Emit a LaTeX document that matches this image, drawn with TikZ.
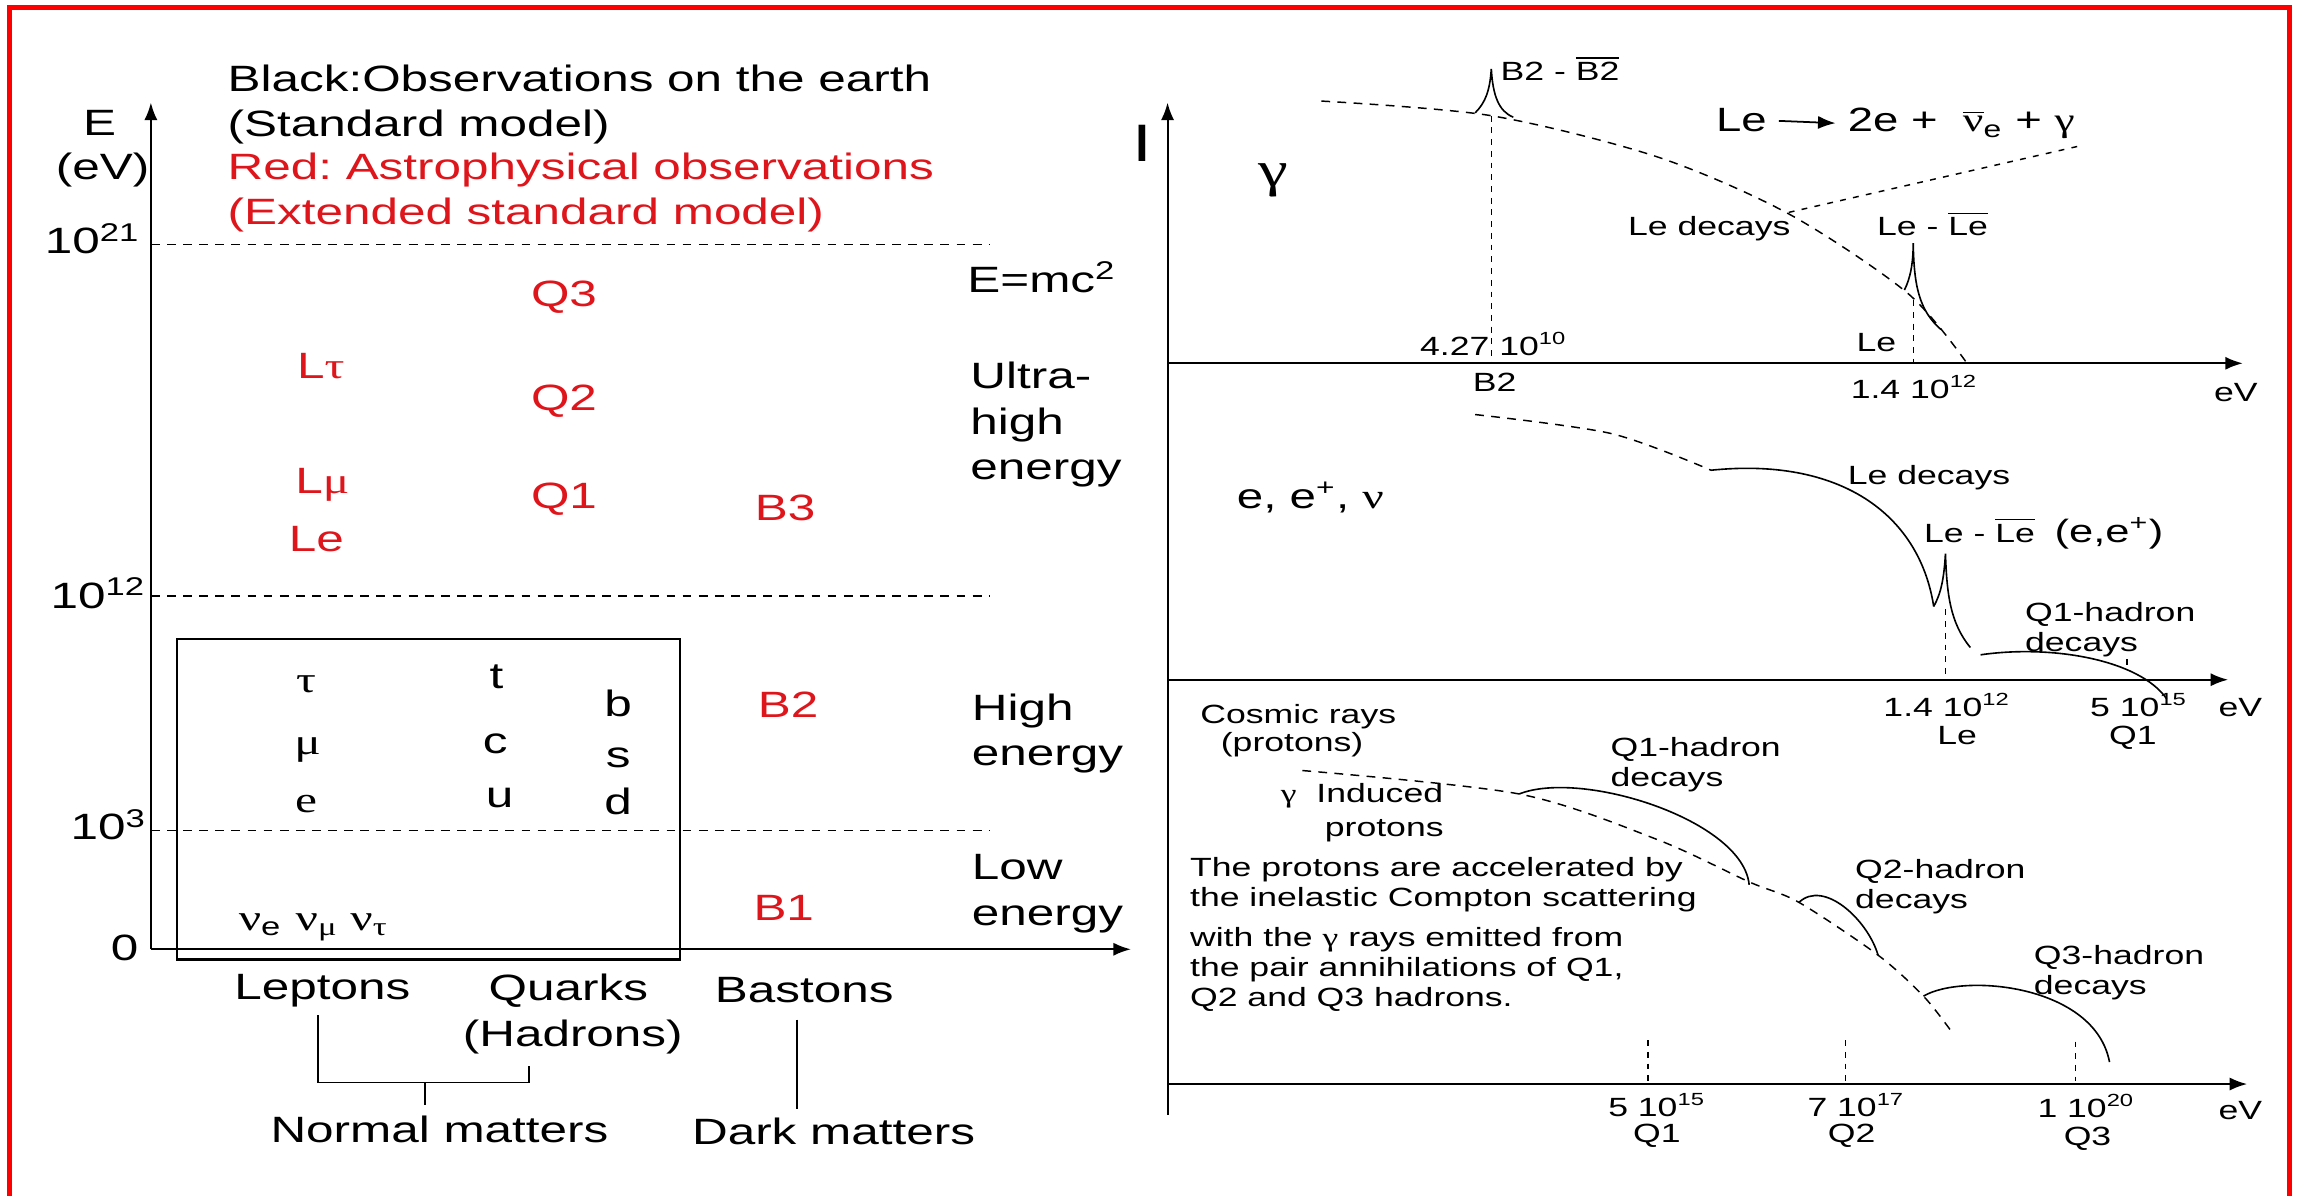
\documentclass[tikz,border=0pt]{standalone}
\usepackage{fontspec}
\setmainfont{Liberation Sans}[FakeStretch=1.35]
\newfontfamily\grk{Liberation Serif}[FakeStretch=1.35]
\usetikzlibrary{arrows.meta}
\definecolor{obsred}{RGB}{222,22,28}
\definecolor{framered}{RGB}{255,0,0}
\newcommand\bigfont{\fontsize{12.5}{15.5}\selectfont}
\newcommand\smallfont{\fontsize{9}{10.2}\selectfont}
\newcommand\ovl[1]{$\overline{\mbox{#1}}$}
\frenchspacing

\begin{document}
\begin{tikzpicture}[>={Latex[length=6pt,width=4.5pt]},x=0.5pt,y=-0.5pt,
    every node/.style={inner sep=0pt},
    lbl/.style={font=\bigfont},
    hot/.style={font=\bigfont,text=obsred},
    sml/.style={font=\smallfont},
    level/.style={dash pattern=on 3pt off 2.5pt,line width=0.5pt},
    guide/.style={dash pattern=on 2pt off 2pt,line width=0.45pt},
    axis/.style={->,line width=0.7pt},
    spec/.style={line width=0.55pt}]
    \path[use as bounding box,fill=white] (0,0) rectangle (1568,816.4);
    \draw[framered,line width=1.8pt] (6.5,816.4) -- (6.5,5) -- (1563,5) -- (1563,816.4);

    % energy scale
    \draw[axis] (103,648) -- (103,70);
    \draw[axis] (103,648) -- (772,648);
    \draw[level] (103,167) -- (676,167);
    \draw[level] (103,407) -- (676,407);
    \draw[level] (103,567) -- (676,567);
    \draw[line width=0.7pt] (120.5,436) rectangle (464,655);
    \node[lbl] (E) at (68,84) {E};
    \node[lbl] (eV) at (70,116) {(eV)};
    \node[lbl] (e21) at (63,163) {10\textsuperscript{21}};
    \node[lbl] (e12) at (67,405) {10\textsuperscript{12}};
    \node[lbl] (e3) at (74,563) {10\textsuperscript{3}};
    \node[lbl] (e0) at (85,647) {0};
    \node[lbl,anchor=north west,align=left] (black) at (155,44) {Black:Observations on the earth\\(Standard model)};
    \node[hot,anchor=north west,align=left] (red) at (155,104) {Red: Astrophysical observations\\(Extended standard model)};
    \node[lbl,anchor=west] (emc) at (660,189) {E=mc\textsuperscript{2}};
    \node[lbl,anchor=north west,align=left] (uhe) at (662,247) {Ultra-\\high\\energy};
    \node[lbl,anchor=north west,align=left] (he) at (663,473) {High\\energy};
    \node[lbl,anchor=north west,align=left] (le) at (663,583) {Low\\energy};
    \node[hot] (Q3) at (385,203) {Q3};
    \node[hot] (Ltau) at (219,250) {L{\grk τ}};
    \node[hot] (Q2) at (385,274) {Q2};
    \node[hot] (Lmu) at (220,331) {L{\grk μ}};
    \node[hot] (Q1) at (385,341) {Q1};
    \node[hot] (B3) at (536,347) {B3};
    \node[hot] (Le) at (216,368) {Le};
    \node[hot] (B2) at (538,481) {B2};
    \node[hot] (B1) at (535,620) {B1};
    \node[lbl,font=\bigfont\grk] (tau) at (209,467) {τ};
    \node[lbl,font=\bigfont\grk] (mu) at (210,512) {μ};
    \node[lbl,font=\bigfont\grk] (el) at (209,549) {e};
    \node[lbl] (t) at (339,462) {t};
    \node[lbl] (c) at (338,508) {c};
    \node[lbl] (u) at (341,545) {u};
    \node[lbl] (b) at (422,480) {b};
    \node[lbl] (s) at (422,517) {s};
    \node[lbl] (d) at (422,547) {d};
    \node[lbl] (nu) at (214,633) {{\grk ν}\textsubscript{e} {\grk ν\textsubscript{μ} ν\textsubscript{τ}}};
    \node[lbl] (lep) at (220,676) {Leptons};
    \node[lbl] (qua) at (388,676) {Quarks};
    \node[lbl] (had) at (391,708) {(Hadrons)};
    \node[lbl] (bas) at (549,676) {Bastons};
    \node[lbl] (norm) at (300,771) {Normal matters};
    \node[lbl] (dark) at (569,772) {Dark matters};
    \coordinate (lepfoot) at (217,693);
    \coordinate (hadfoot) at (361,728);
    \coordinate (normfork) at (290,739);
    \coordinate (normfoot) at (290,754);
    \coordinate (bastop) at (544,696);
    \coordinate (basfoot) at (544,757);
    \draw[line width=0.5pt] (lepfoot) |- (hadfoot |- normfork) -- (hadfoot);
    \draw[line width=0.5pt] (normfork) -- (normfoot);
    \draw[line width=0.5pt] (bastop) -- (basfoot);

    % spectra
    \draw[axis] (797,761) -- (797,70);
    \draw[axis] (797,248) -- (1531,248);
    \draw[axis] (797,464) -- (1521,464);
    \draw[axis] (797,740) -- (1534,740);
    \node[font=\fontsize{18}{20}\selectfont] (I) at (780,98) {I};

    % gamma rays
    \draw[level] plot[smooth] coordinates {(902,69) (1018,79) (1131,107) (1221,146) (1302,200) (1342,247)};
    \draw[spec] (1007,77) .. controls (1014,70) and (1017,62) .. (1018,47) .. controls (1019,65) and (1023,76) .. (1033,80);
    \draw[spec] (1300,198) .. controls (1304,190) and (1306,180) .. (1306,166) .. controls (1306.5,195) and (1310,212) .. (1325,225);
    \draw[guide] (1018,79) -- (1018,248);
    \draw[guide] (1306,205) -- (1306,248);
    \draw[dash pattern=on 2pt off 2.5pt,line width=0.5pt] (1221,145) -- (1418,100);
    \node[font=\grk\fontsize{17}{20}\selectfont] (gam) at (869,123) {γ};
    \node[sml,anchor=base west] (b2pair) at (1024,55) {B2 - \ovl{B2}};
    \node[font=\fontsize{11.5}{14}\selectfont,anchor=base west] (dec) at (1171,90) {Le};
    \node[font=\fontsize{11.5}{14}\selectfont,anchor=base west] (prod) at (1261,90) {2e + \ {\grk $\overline{\mbox{ν}}$}\textsubscript{e} + {\grk γ}};
    \draw[->,line width=0.6pt,shorten <=4pt,shorten >=4pt] (dec.east) -- (prod.west);
    \node[sml,anchor=base west] (ledec) at (1111,161) {Le decays};
    \node[sml,anchor=base west] (lepair) at (1281,161) {Le - \ovl{Le}};
    \node[sml,anchor=base west] (x427) at (969,243) {4.27 10\textsuperscript{10}};
    \node[sml,anchor=base west] (leA) at (1267,240) {Le};
    \node[sml,anchor=base west] (b2A) at (1005,267) {B2};
    \node[sml,anchor=base west] (x14A) at (1263,272) {1.4 10\textsuperscript{12}};
    \node[sml,anchor=base west] (evA) at (1511,274) {eV};

    % electrons, positrons, neutrinos
    \draw[level] plot[smooth] coordinates {(1007,283) (1100,296) (1168,321)};
    \draw[spec] (1168,321) .. controls (1255,312) and (1310,350) .. (1320,414);
    \draw[spec] (1320,414) .. controls (1325,405) and (1327,395) .. (1328,378) .. controls (1329,405) and (1331,425) .. (1345,442);
    \draw[spec] (1352,447) .. controls (1400,440) and (1460,450) .. (1479,477);
    \draw[guide] (1328,416) -- (1328,464);
    \draw[guide] (1452,450) -- (1452,456);
    \node[font=\fontsize{12}{14}\selectfont,anchor=base west] (lept) at (844,347) {e, e\textsuperscript{+}, {\grk ν}};
    \node[sml,anchor=base west] (ledecB) at (1261,331) {Le decays};
    \node[sml,anchor=base west] (lepairB) at (1313,370) {Le - \ovl{Le}\ \ {\fontsize{11}{13}\selectfont(e,e\textsuperscript{+})}};
    \node[sml,anchor=north west,align=left] (q1decB) at (1382,411) {Q1-hadron\\decays};
    \node[sml,anchor=base] (x14B) at (1329,489) {1.4 10\textsuperscript{12}};
    \node[sml,anchor=base] (leB) at (1336,508) {Le};
    \node[sml,anchor=base] (x5B) at (1460,489) {5 10\textsuperscript{15}};
    \node[sml,anchor=base] (q1B) at (1456,508) {Q1};
    \node[sml,anchor=base west] (evB) at (1514,489) {eV};

    % protons
    \draw[level] plot[smooth] coordinates {(889,526) (1037,542) (1131,573) (1194,602) (1228,616) (1282,652) (1313,680) (1332,704)};
    \draw[spec] (1037,542) .. controls (1080,525) and (1190,560) .. (1194,604);
    \draw[spec] (1228,616) .. controls (1245,600) and (1275,628) .. (1282,652);
    \draw[spec] (1313,680) .. controls (1340,664) and (1430,672) .. (1440,725);
    \draw[guide] (1125,710) -- (1125,738);
    \draw[guide] (1260,710) -- (1260,738);
    \draw[guide] (1417,711) -- (1417,738);
    \node[sml,anchor=base west] (cosm) at (819,494) {Cosmic rays};
    \node[sml,anchor=base west] (cosmp) at (833,513) {(protons)};
    \node[sml,anchor=base west] (ind) at (874,548) {{\grk γ}\ \ Induced};
    \node[sml,anchor=base west] (indp) at (904,571) {protons};
    \node[sml,anchor=north west,align=left] (accel) at (812,585) {The protons are accelerated by\\the inelastic Compton scattering};
    \node[sml,anchor=north west,align=left] (emit) at (812,633) {with the {\grk γ} rays emitted from\\the pair annihilations of Q1,\\Q2 and Q3 hadrons.};
    \node[sml,anchor=north west,align=left] (q1dec) at (1099,503) {Q1-hadron\\decays};
    \node[sml,anchor=north west,align=left] (q2dec) at (1266,586) {Q2-hadron\\decays};
    \node[sml,anchor=north west,align=left] (q3dec) at (1388,645) {Q3-hadron\\decays};
    \node[sml,anchor=base] (x5C) at (1131,762) {5 10\textsuperscript{15}};
    \node[sml,anchor=base] (q1C) at (1131,780) {Q1};
    \node[sml,anchor=base] (x7C) at (1267,762) {7 10\textsuperscript{17}};
    \node[sml,anchor=base] (q2C) at (1264,780) {Q2};
    \node[sml,anchor=base] (x1C) at (1424,763) {1 10\textsuperscript{20}};
    \node[sml,anchor=base] (q3C) at (1425,782) {Q3};
    \node[sml,anchor=base west] (evC) at (1514,764) {eV};
\end{tikzpicture}
\end{document}
